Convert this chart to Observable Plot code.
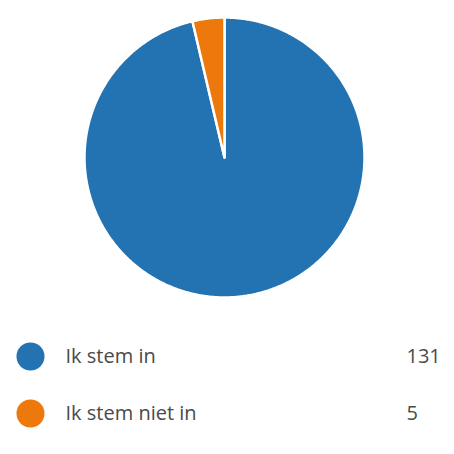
<!DOCTYPE html>
<html>
<head>
<meta charset="utf-8">
<script src="https://cdn.jsdelivr.net/npm/d3@7"></script>
<script src="https://cdn.jsdelivr.net/npm/@observablehq/plot@0.6"></script>
<style>
  html, body { margin: 0; padding: 0; background: #fff; }
  #chart svg { display: block; }
</style>
</head>
<body>
<div id="chart"></div>
<script>
const categories = ["Ik stem in", "Ik stem niet in"];
const counts = [131, 5];
const colors = ["#2372b2", "#ed790c"];

// Slice geometry derived from counts (clockwise from 12 o'clock)
const slices = d3.pie().sort(null)(counts);
const piePoints = slices.flatMap((s, i) => {
  const cat = categories[i];
  const n = Math.max(2, Math.ceil((s.endAngle - s.startAngle) / (Math.PI / 360)));
  const arr = [{cat, x: 0, y: 0}];
  for (let k = 0; k <= n; k++) {
    const a = s.startAngle + (s.endAngle - s.startAngle) * k / n;
    arr.push({cat, x: Math.sin(a), y: Math.cos(a)});
  }
  arr.push({cat, x: 0, y: 0});
  return arr;
});

const font = "'Open Sans', 'Noto Sans', sans-serif";

const pie = Plot.plot({
  width: 454,
  height: 314,
  marginLeft: 84,
  marginRight: 90,
  marginTop: 17,
  marginBottom: 17,
  style: {fontFamily: font, background: "#fff"},
  x: {domain: [-1, 1], axis: null},
  y: {domain: [-1, 1], axis: null},
  color: {domain: categories, range: colors},
  marks: [
    Plot.line(piePoints, {x: "x", y: "y", z: "cat", fill: "cat", stroke: "white", strokeWidth: 2.5, strokeLinejoin: "round", curve: "linear"})
  ]
});

const legend = Plot.plot({
  width: 454,
  height: 140,
  marginLeft: 0,
  marginRight: 0,
  marginTop: 0,
  marginBottom: 0,
  style: {fontFamily: font, background: "#fff"},
  y: {type: "point", domain: categories, range: [42, 99], padding: 0, axis: null},
  color: {domain: categories, range: colors},
  marks: [
    Plot.dot(categories, {y: d => d, fill: d => d, r: 14, frameAnchor: "left", dx: 30}),
    Plot.text(categories, {y: d => d, text: d => d, frameAnchor: "left", textAnchor: "start", dx: 65, fontSize: 20, fill: "#4a4a4a"}),
    Plot.text(categories, {y: d => d, text: (d, i) => String(counts[i]), frameAnchor: "left", textAnchor: "start", dx: 406, fontSize: 20, fill: "#4a4a4a"})
  ]
});

document.getElementById("chart").append(pie, legend);
</script>
</body>
</html>
